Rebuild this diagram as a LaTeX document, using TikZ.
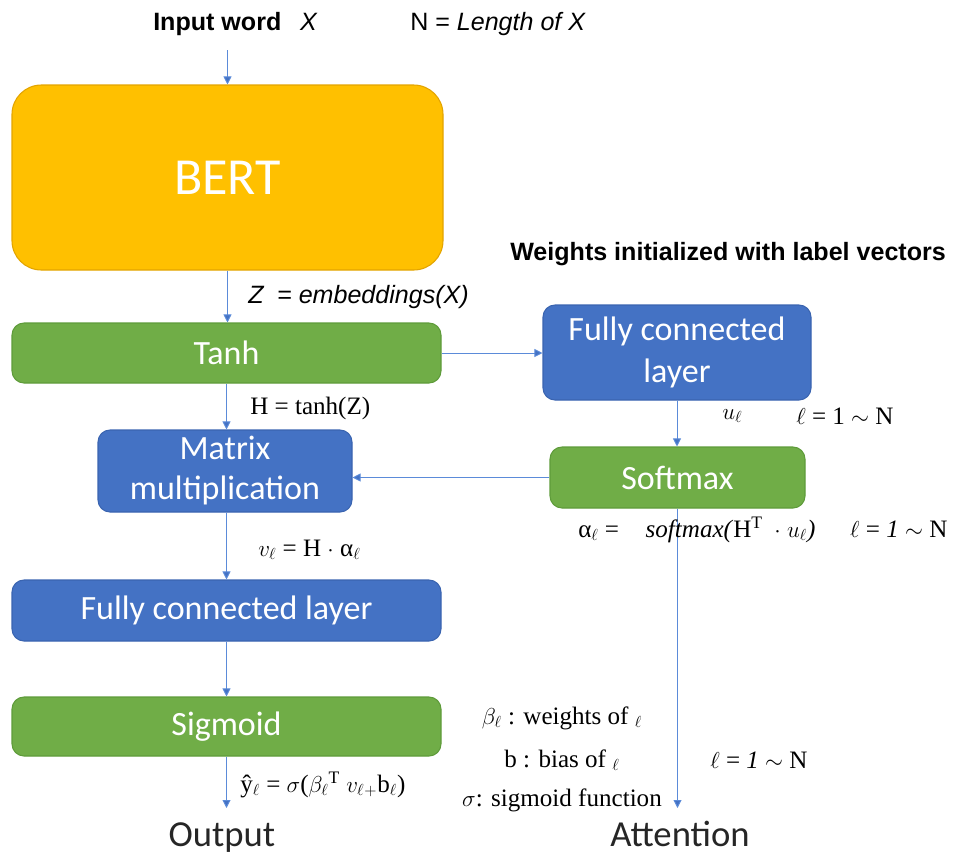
\documentclass[tikz,border=0pt]{standalone}
\usepackage{fontspec}
\setmainfont{Liberation Serif}
\setsansfont{Liberation Sans}
\newfontfamily\calib{Carlito}
\usetikzlibrary{arrows.meta}
\definecolor{borange}{HTML}{FFC000}
\definecolor{borangeD}{HTML}{E3A400}
\definecolor{bgreen}{HTML}{70AD47}
\definecolor{bgreenD}{HTML}{5E9B3A}
\definecolor{bblue}{HTML}{4472C4}
\definecolor{bblueD}{HTML}{3A64B0}
\definecolor{arr}{HTML}{5B8BD9}
\tikzset{
  box/.style={rectangle, rounded corners=9pt, line width=0.8pt, text=white, font=\calib\fontsize{25.5}{30}\selectfont, align=center, inner sep=0pt},
  gbox/.style={box, fill=bgreen, draw=bgreenD},
  bbox/.style={box, fill=bblue, draw=bblueD},
  obox/.style={box, fill=borange, draw=borangeD, rounded corners=22pt, font=\calib\fontsize{39}{42}\selectfont},
  conn/.style={draw=arr, line width=0.7pt, -{Triangle[length=6pt,width=6pt,fill=bblue]}},
  lab/.style={inner sep=0pt, font=\fontsize{18.8}{22}\selectfont},
  slab/.style={inner sep=0pt, font=\sffamily\fontsize{18.8}{22}\selectfont},
  big/.style={inner sep=0pt, font=\calib\fontsize{27.5}{30}\selectfont, text=black!85}
}
\begin{document}
\begin{tikzpicture}[x=0.75pt,y=-0.75pt]
\useasboundingbox (0,0) rectangle (961,854);
% boxes
\node[obox, minimum width=431*0.75pt, minimum height=185*0.75pt] (bert) at (227.5,177.5) {BERT};
\node[gbox, minimum width=429*0.75pt, minimum height=60*0.75pt] (tanh) at (226.5,353) {Tanh};
\node[bbox, minimum width=268*0.75pt, minimum height=95*0.75pt] (fcr) at (677,352.5) {Fully connected\\[2pt]layer};
\node[gbox, minimum width=255*0.75pt, minimum height=61*0.75pt] (soft) at (677.5,477.5) {Softmax};
\node[bbox, minimum width=254*0.75pt, minimum height=82*0.75pt] (mm) at (225,471) {\raisebox{-5pt}{Matrix}\\\raisebox{-5pt}{multiplication}};
\node[bbox, minimum width=429*0.75pt, minimum height=61*0.75pt] (fcl) at (226.5,610.5) {Fully connected layer};
\node[gbox, minimum width=429*0.75pt, minimum height=59*0.75pt] (sig) at (226.5,726.5) {Sigmoid};
% coordinates
\coordinate (in) at (227.5,50);
\coordinate (outend) at (226.5,808);
\coordinate (attend) at (677.5,808);
% connectors
\draw[conn] (in) -- (bert.north);
\draw[conn] (bert.south) -- (tanh.north -| bert.south);
\draw[conn] (tanh.east) -- (tanh.east -| fcr.west);
\draw[conn] (tanh.south) -- (mm.north -| tanh.south);
\draw[conn] (fcr.south) -- (soft.north -| fcr.south);
\draw[conn] (soft.west) -- (soft.west -| mm.east);
\draw[conn] (soft.south) -- (attend);
\draw[conn] (mm.south -| fcl.north) -- (fcl.north);
\draw[conn] (fcl.south) -- (sig.north);
\draw[conn] (sig.south) -- (outend);
% labels
\node[slab, anchor=west] (t1) at (153,24) {\textbf{Input word}\hspace{14pt}\textit{X}};
\node[slab, anchor=west] (t2) at (410,24) {N = \textit{Length of X}};
\node[slab, anchor=west] (t3) at (510,254) {\textbf{Weights initialized with label vectors}};
\node[slab, anchor=west] (t4) at (248,297) {\textit{Z\hspace{5pt} = embeddings(X)}};
\node[lab, anchor=west] (t5) at (250,408) {H = tanh(Z)};
\node[lab, anchor=west] (t6) at (722,416) {$u_\ell$};
\node[lab, anchor=west] (t7) at (796,416) {$\ell$ = 1 $\sim$ N};
\node[lab, anchor=west] (t8) at (578,530) {α$_\ell$ =\hspace{20pt}\textit{softmax(}H$^{\mathrm{T}}$\hspace{4pt} $\cdot$ $u_\ell$\textit{)}\hspace{26pt}$\ell$ = \textit{1} $\sim$ N};
\node[lab, anchor=west] (t9) at (258,550) {$v_\ell$ = H $\cdot$ α$_\ell$};
\node[lab] (t10) at (562,718) {$\beta_\ell$ : weights of $_\ell$};
\node[lab] (t11) at (562,760) {b : bias of $_\ell$};
\node[lab, anchor=west] (t12) at (710,760) {$\ell$ = \textit{1} $\sim$ N};
\node[lab] (t13) at (562,800) {$\sigma$: sigmoid function};
\node[lab, anchor=west] (t14) at (240,785) {ŷ$_\ell$ = $\sigma$($\beta_\ell{}^{\mathrm{T}}$ $v_\ell$$_{+}$b$_\ell$)};
\node[big, anchor=base] (o1) at (222,846) {Output};
\node[big, anchor=base] (o2) at (680,846) {Attention};
\end{tikzpicture}
\end{document}
